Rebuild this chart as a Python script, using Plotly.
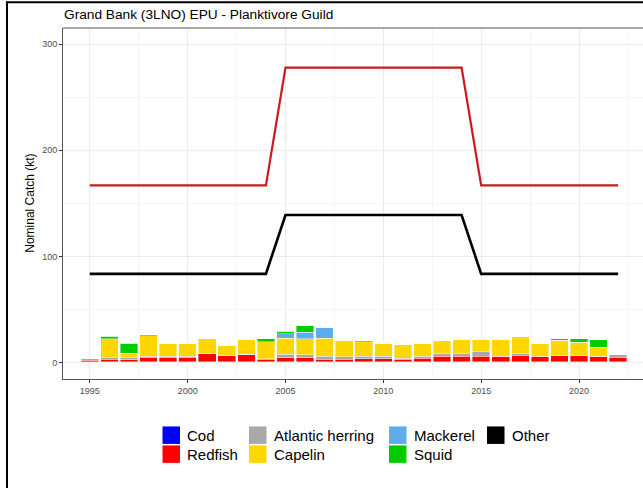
import plotly.graph_objects as go

years = list(range(1995, 2023))
cod = [0.5] * 28
redfish = [1.5, 2.6, 2.0, 4.2, 4.2, 4.2, 7.6, 6.1, 6.7, 2.3, 3.9, 3.9, 2.3, 2.3,
           2.9, 2.9, 2.6, 3.6, 5.1, 5.1, 5.5, 5.1, 6.1, 5.1, 6.1, 6.1, 5.1, 4.5]
herring = [1.8, 1.2, 2.5, 0.9, 0.9, 0.9, 0.3, 0.2, 0.3, 0.5, 3.1, 2.8, 3.1, 2.5,
           2.2, 2.2, 0.9, 1.6, 3.1, 3.1, 4.4, 0.3, 2.2, 0.3, 0.3, 0.3, 0.3, 2.5]
capelin = [0.3, 17.9, 3.4, 19.7, 12.2, 11.9, 13.8, 9.4, 13.8, 16.3, 15.4, 15.0, 16.9, 15.4,
           13.8, 12.2, 12.9, 11.9, 11.9, 12.9, 11.3, 16.0, 15.4, 11.9, 14.1, 11.9, 8.5, 0.0]
mackerel = [0, 0, 0, 0, 0, 0, 0, 0, 0, 0, 4.1, 6.3, 10.3, 0,
            0, 0, 0, 0, 0, 0, 0, 0, 0, 0, 0, 0, 0, 0]
squid = [0, 2.2, 9.7, 0.9, 0, 0, 0, 0, 0, 2.8, 2.5, 6.0, 0, 0,
         0.9, 0.8, 0, 0, 0, 0, 0, 0, 0, 0, 1.3, 3.4, 6.9, 0]
other = [0] * 28

upper_ref = [167] * 10 + [278] * 10 + [167] * 8
lower_ref = [83.5] * 10 + [139] * 10 + [83.5] * 8

series_names = ["Cod", "Redfish", "Atlantic herring", "Capelin", "Mackerel", "Squid", "Other"]
series_vals = [cod, redfish, herring, capelin, mackerel, squid, other]
series_cols = ["#0000FF", "#FF0000", "#A9A9A9", "#FFD700", "#5CACEE", "#00CD00", "#000000"]

W, H = 643, 488
L, T, R_px, B_px = 63, 28, 643, 379.5

def px(x):
    return (x - L) / (R_px - L)

def py(y):
    return (B_px - y) / (B_px - T)

fig = go.Figure()
for name, vals, col in zip(series_names, series_vals, series_cols):
    fig.add_trace(go.Bar(x=years, y=vals, name=name, marker_color=col,
                         marker_line_width=0.4, marker_line_color="white",
                         showlegend=False))

fig.add_trace(go.Scatter(x=years, y=upper_ref, mode="lines",
                         line=dict(color="#CC1A1A", width=2.2), showlegend=False))
fig.add_trace(go.Scatter(x=years, y=lower_ref, mode="lines",
                         line=dict(color="#000000", width=2.6), showlegend=False))

font_fam = "Arial, Liberation Sans, sans-serif"

fig.update_layout(
    width=W, height=H,
    margin=dict(l=L, r=W - R_px, t=T, b=H - B_px, pad=0),
    barmode="stack", bargap=0.1,
    plot_bgcolor="white", paper_bgcolor="white",
    font=dict(family=font_fam),
    showlegend=False,
)
fig.update_xaxes(range=[1993.63, 2023.27], tickvals=[1995, 2000, 2005, 2010, 2015, 2020],
                 ticks="outside", ticklen=3, tickcolor="#333333", tickwidth=1,
                 tickfont=dict(size=9, color="#4d4d4d"),
                 showgrid=True, gridcolor="#ebebeb", gridwidth=1,
                 minor=dict(tickvals=[1997.5, 2002.5, 2007.5, 2012.5, 2017.5, 2022.5],
                            showgrid=True, gridcolor="#f5f5f5", gridwidth=0.5),
                 showline=True, linecolor="#555555", linewidth=1, zeroline=False)
fig.update_yaxes(range=[-15.7, 315.4], tickvals=[0, 100, 200, 300],
                 ticks="outside", ticklen=3, tickcolor="#333333", tickwidth=1,
                 tickfont=dict(size=9, color="#4d4d4d"),
                 showgrid=True, gridcolor="#ebebeb", gridwidth=1,
                 minor=dict(tickvals=[50, 150, 250],
                            showgrid=True, gridcolor="#f5f5f5", gridwidth=0.5),
                 showline=True, linecolor="#555555", linewidth=1, zeroline=False)

shapes = []
# top panel border
shapes.append(dict(type="line", xref="paper", yref="paper", x0=0, x1=1.05, y0=1, y1=1,
                   line=dict(color="#555555", width=1)))
# outer frame of image
shapes.append(dict(type="line", xref="paper", yref="paper", x0=px(6), x1=px(660),
                   y0=py(2.3), y1=py(2.3), line=dict(color="black", width=2)))
shapes.append(dict(type="line", xref="paper", yref="paper", x0=px(7), x1=px(7),
                   y0=py(1.5), y1=py(495), line=dict(color="black", width=2)))

annotations = []
annotations.append(dict(text="Grand Bank (3LNO) EPU - Planktivore Guild", xref="paper", yref="paper",
                        x=px(62), y=py(14), xanchor="left", yanchor="middle", showarrow=False,
                        font=dict(size=13.7, color="black", family=font_fam)))
annotations.append(dict(text="Nominal Catch (kt)", xref="paper", yref="paper",
                        x=px(30), y=py(204), xanchor="center", yanchor="middle", showarrow=False,
                        textangle=-90, font=dict(size=12, color="black", family=font_fam)))

# manual legend (column-wise, 2 rows)
legend_layout = [
    ("Cod", 162.5, 427), ("Redfish", 162.5, 446),
    ("Atlantic herring", 249, 427), ("Capelin", 249, 446),
    ("Mackerel", 389, 427), ("Squid", 389, 446),
    ("Other", 487, 427),
]
col_map = dict(zip(series_names, series_cols))
for name, x0, y0 in legend_layout:
    shapes.append(dict(type="rect", xref="paper", yref="paper",
                       x0=px(x0), x1=px(x0 + 17.5), y0=py(y0), y1=py(y0 + 17.5),
                       fillcolor=col_map[name], line=dict(width=0)))
    annotations.append(dict(text=name, xref="paper", yref="paper",
                            x=px(x0 + 22.5), y=py(y0 + 9), xanchor="left", yanchor="middle",
                            showarrow=False, font=dict(size=15, color="black", family=font_fam)))

fig.update_layout(shapes=shapes, annotations=annotations)
fig.write_html("out.html", config={"displayModeBar": False},
               post_script="document.body.style.margin='0';document.body.style.overflow='hidden';")
